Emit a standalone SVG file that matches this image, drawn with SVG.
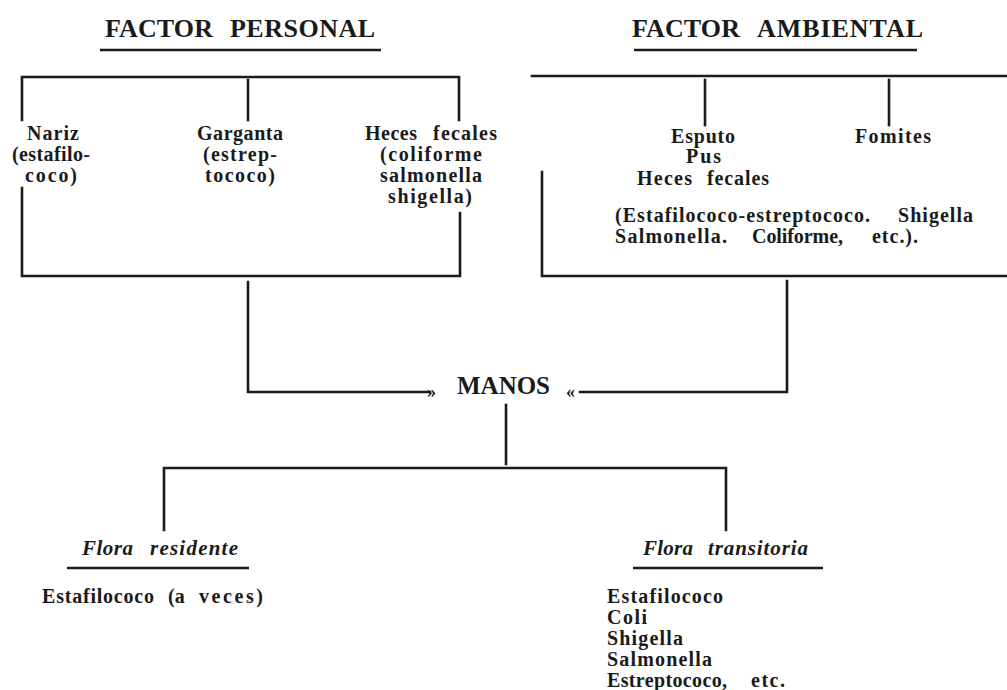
<svg xmlns="http://www.w3.org/2000/svg" width="1007" height="690" viewBox="0 0 1007 690">
<style>
text{font-family:"Liberation Serif","Times New Roman",serif;font-weight:bold;fill:#1a1a1a}
.h{font-size:26px}
.b{font-size:20px}
.i{font-size:21px;font-style:italic}
.m{font-size:25px}
.q{font-size:18px}
.ln{stroke:#1a1a1a;stroke-width:2.6;fill:none;stroke-linecap:square}
.ul{stroke:#1a1a1a;stroke-width:2.6;fill:none}
</style>
<rect width="1007" height="690" fill="#ffffff"/>
<g id="connectors" class="ln">
<path d="M22 120V77H459V120"/>
<path d="M248 80V120"/>
<path d="M22 188V276H460V213"/>
<path d="M248 282V392H430"/>
<path d="M532 76H1007"/>
<path d="M705 80V125"/>
<path d="M889 80V125"/>
<path d="M542 172V276H1007"/>
<path d="M787 281V392H580"/>
<path d="M506 405V464"/>
<path d="M164 530V468H726V530"/>
</g>
<g id="factor-personal">
<text class="h" y="37"><tspan x="105" textLength="108" lengthAdjust="spacing">FACTOR</tspan><tspan x="230" textLength="145" lengthAdjust="spacing">PERSONAL</tspan></text>
<line class="ul" x1="100" y1="50" x2="381" y2="50"/>
</g>
<g id="factor-ambiental">
<text class="h" y="37"><tspan x="632" textLength="108" lengthAdjust="spacing">FACTOR</tspan><tspan x="757" textLength="166" lengthAdjust="spacing">AMBIENTAL</tspan></text>
<line class="ul" x1="634" y1="50" x2="917" y2="50"/>
</g>
<g id="nariz">
<text class="b" x="27" y="140" textLength="52" lengthAdjust="spacing">Nariz</text>
<text class="b" x="12" y="161" textLength="78" lengthAdjust="spacing">(estafilo-</text>
<text class="b" x="25" y="182" textLength="52" lengthAdjust="spacing">coco)</text>
</g>
<g id="garganta">
<text class="b" x="197" y="140" textLength="86" lengthAdjust="spacing">Garganta</text>
<text class="b" x="203" y="161" textLength="74" lengthAdjust="spacing">(estrep-</text>
<text class="b" x="205" y="182" textLength="70" lengthAdjust="spacing">tococo)</text>
</g>
<g id="heces-personal">
<text class="b" y="140"><tspan x="365" textLength="52" lengthAdjust="spacing">Heces</tspan><tspan x="433" textLength="64" lengthAdjust="spacing">fecales</tspan></text>
<text class="b" x="380" y="161" textLength="102" lengthAdjust="spacing">(coliforme</text>
<text class="b" x="380" y="182" textLength="102" lengthAdjust="spacing">salmonella</text>
<text class="b" x="388" y="203" textLength="84" lengthAdjust="spacing">shigella)</text>
</g>
<g id="esputo">
<text class="b" x="671" y="143" textLength="64" lengthAdjust="spacing">Esputo</text>
<text class="b" x="686" y="163" textLength="35" lengthAdjust="spacing">Pus</text>
<text class="b" y="185"><tspan x="637" textLength="55" lengthAdjust="spacing">Heces</tspan><tspan x="707" textLength="62" lengthAdjust="spacing">fecales</tspan></text>
</g>
<g id="fomites">
<text class="b" x="855" y="143" textLength="76" lengthAdjust="spacing">Fomites</text>
</g>
<g id="ambiental-agentes">
<text class="b" y="222"><tspan x="615" textLength="255" lengthAdjust="spacing">(Estafilococo-estreptococo.</tspan><tspan x="898" textLength="75" lengthAdjust="spacing">Shigella</tspan></text>
<text class="b" y="243"><tspan x="615" textLength="112" lengthAdjust="spacing">Salmonella.</tspan><tspan x="752" textLength="91" lengthAdjust="spacing">Coliforme,</tspan><tspan x="872" textLength="46" lengthAdjust="spacing">etc.).</tspan></text>
</g>
<g id="manos">
<text class="q" x="427" y="398">»</text>
<text class="m" x="457" y="394" textLength="93" lengthAdjust="spacing">MANOS</text>
<text class="q" x="566" y="398">«</text>
</g>
<g id="flora-residente">
<text class="i" y="555"><tspan x="82" textLength="51" lengthAdjust="spacing">Flora</tspan><tspan x="150" textLength="88" lengthAdjust="spacing">residente</tspan></text>
<line class="ul" x1="67" y1="568" x2="249" y2="568"/>
<text class="b" y="603"><tspan x="42" textLength="112" lengthAdjust="spacing">Estafilococo</tspan><tspan x="168">(a</tspan><tspan x="199" textLength="64" lengthAdjust="spacing">veces)</tspan></text>
</g>
<g id="flora-transitoria">
<text class="i" y="555"><tspan x="643" textLength="50" lengthAdjust="spacing">Flora</tspan><tspan x="708" textLength="100" lengthAdjust="spacing">transitoria</tspan></text>
<line class="ul" x1="633" y1="568" x2="823" y2="568"/>
<text class="b" x="607" y="603" textLength="116" lengthAdjust="spacing">Estafilococo</text>
<text class="b" x="607" y="624" textLength="40" lengthAdjust="spacing">Coli</text>
<text class="b" x="607" y="645" textLength="76" lengthAdjust="spacing">Shigella</text>
<text class="b" x="607" y="666" textLength="105" lengthAdjust="spacing">Salmonella</text>
<text class="b" y="687"><tspan x="607" textLength="120" lengthAdjust="spacing">Estreptococo,</tspan><tspan x="751" textLength="34" lengthAdjust="spacing">etc.</tspan></text>
</g>
</svg>
